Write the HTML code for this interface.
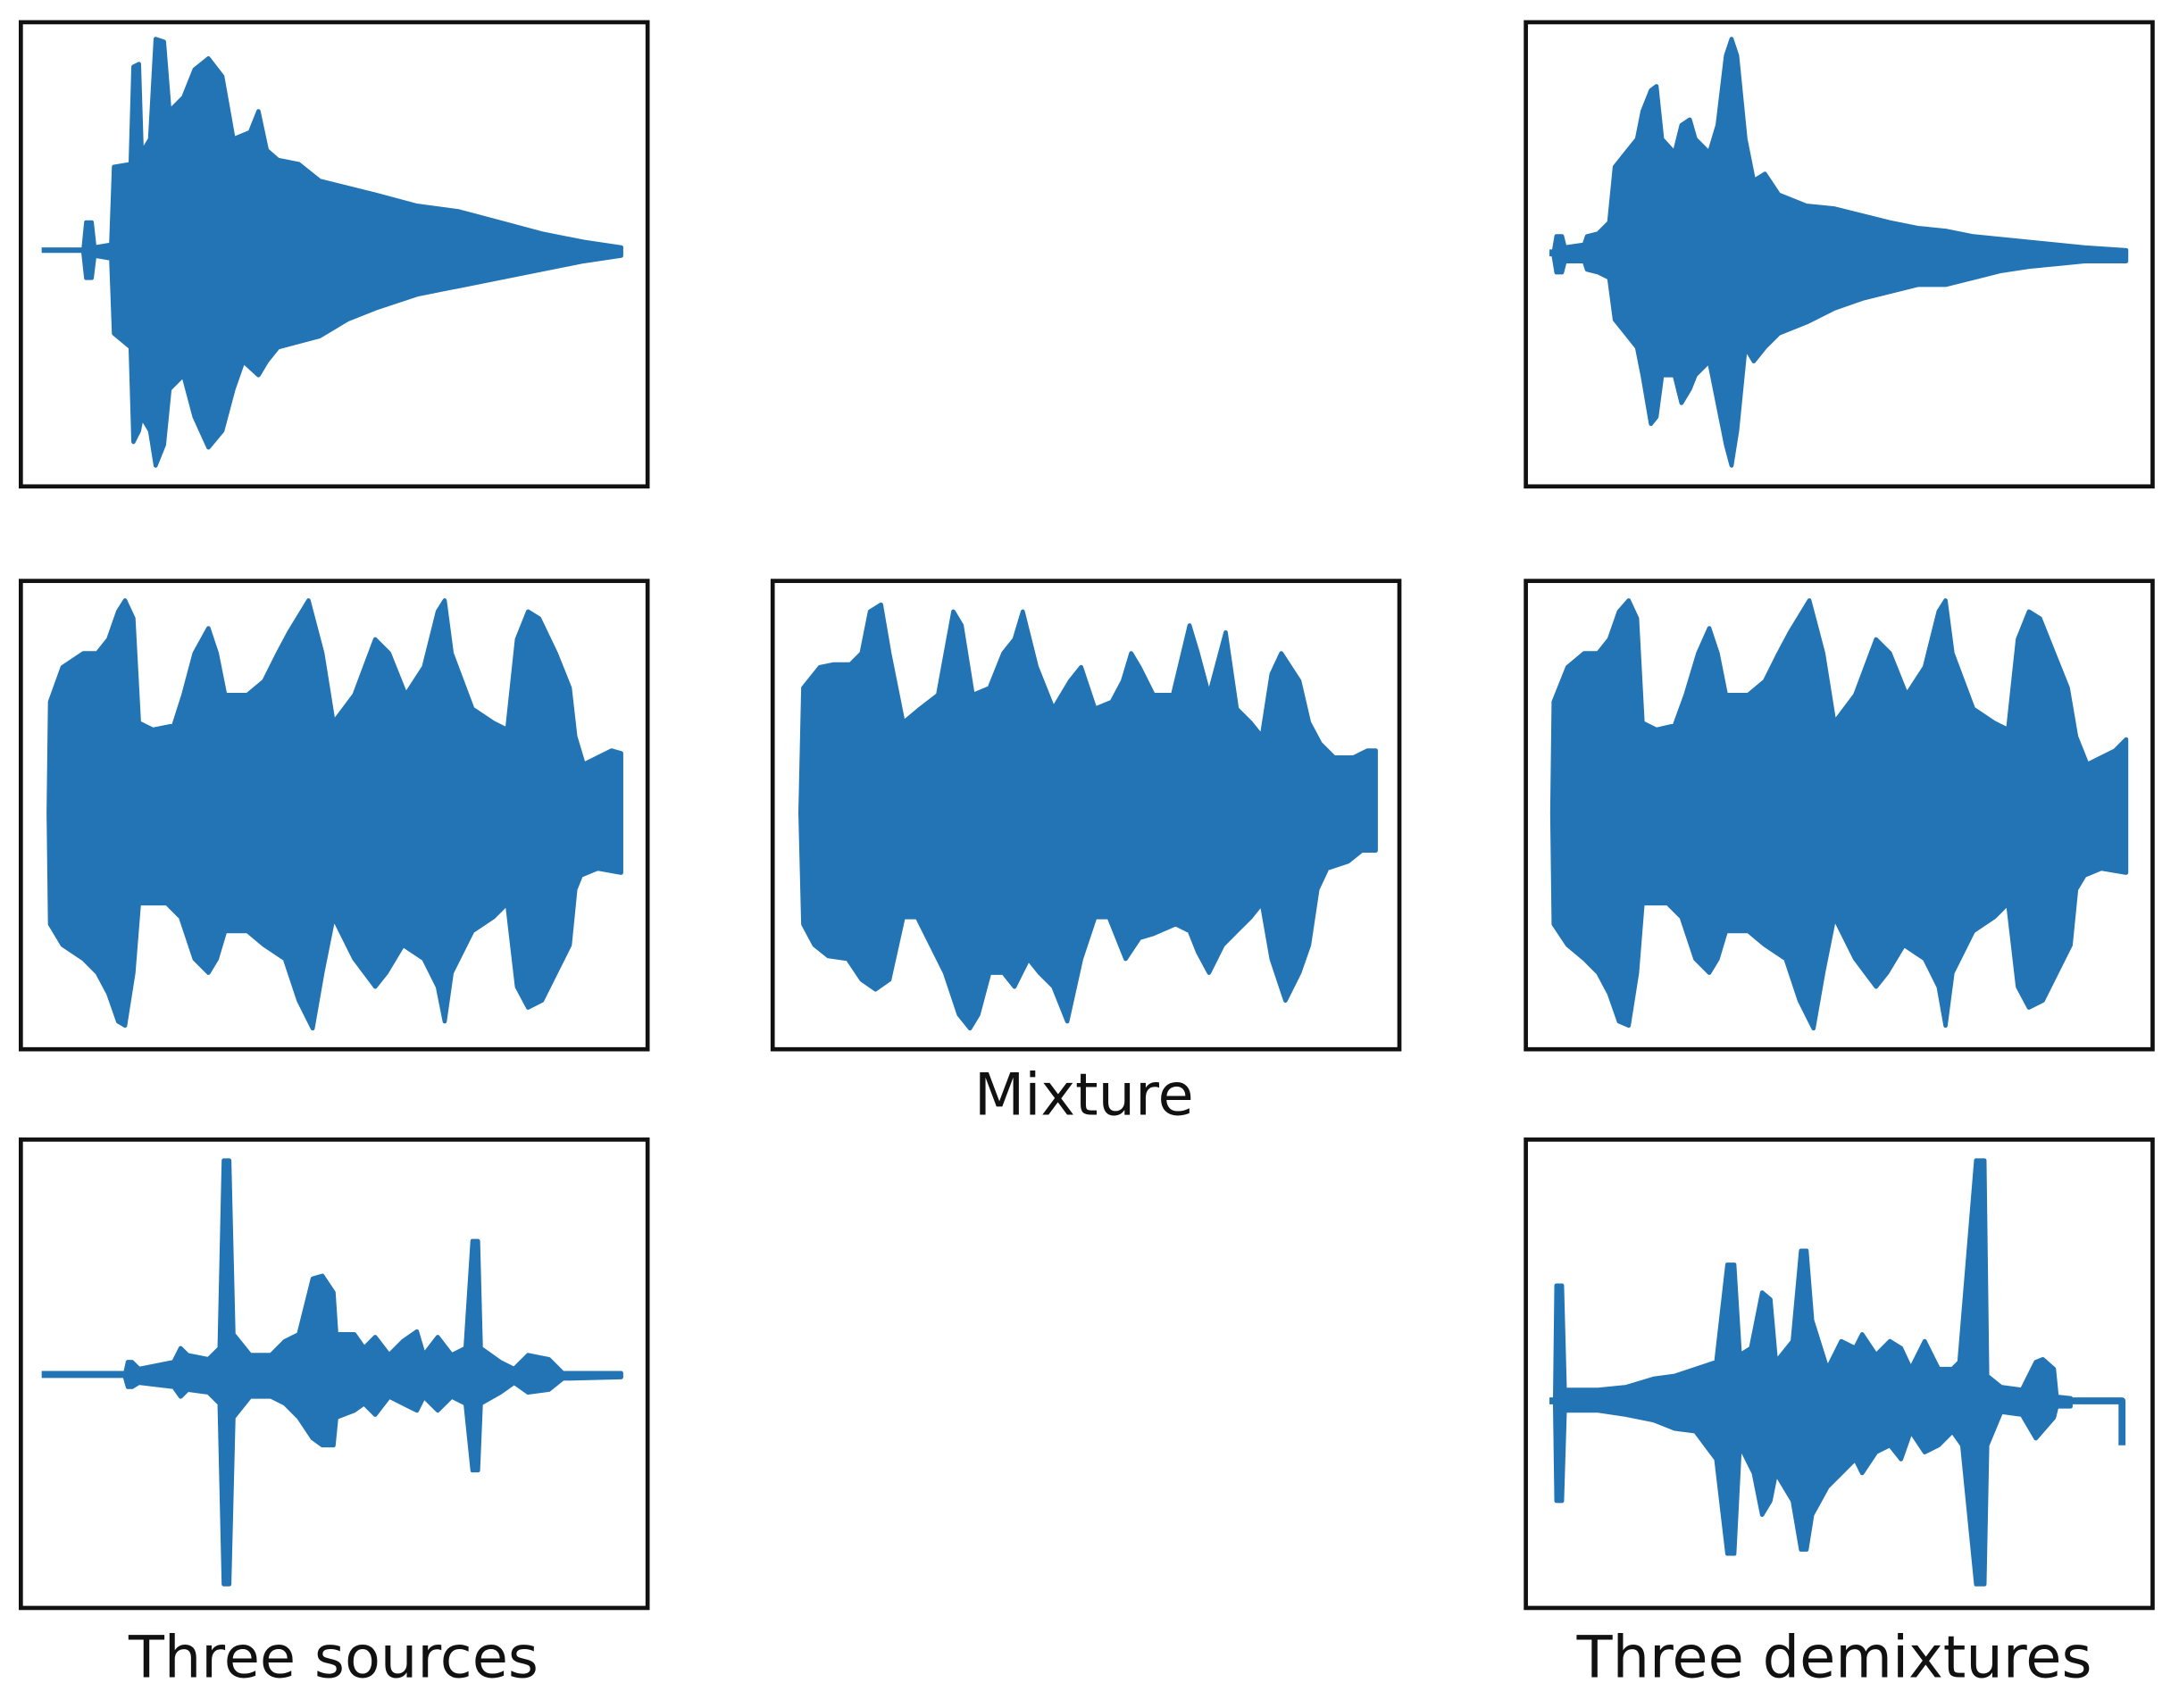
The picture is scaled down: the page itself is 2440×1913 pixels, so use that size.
<!DOCTYPE html>
<html><head><meta charset="utf-8"><style>
html,body{margin:0;padding:0;background:#fff;width:2440px;height:1913px;overflow:hidden}
svg{display:block}
text{font-family:"DejaVu Sans","Liberation Sans",sans-serif;font-size:42px;fill:#111}
</style></head><body>
<svg width="2440" height="1913" viewBox="0 0 1568 1229" preserveAspectRatio="none" xmlns="http://www.w3.org/2000/svg">
<g fill="#2274b4" stroke="#2274b4" stroke-width="3" stroke-linejoin="round">
<polyline points="30,180 447,180" fill="none" stroke-width="4"/>
<polygon points="60,180 62,160 66,160 68,178 80,176 82,120 94,118 96,48 100,46 102,110 108,100 112,28 118,30 122,80 132,70 140,50 150,42 160,55 168,100 180,95 186,80 192,108 200,115 215,118 230,130 250,135 270,140 300,148 330,152 360,160 390,168 420,174 447,178 447,184 420,188 390,194 360,200 330,206 300,212 270,222 250,230 230,242 200,250 192,260 186,270 175,260 168,280 160,310 150,322 140,300 132,270 122,280 118,320 112,335 108,310 102,300 100,310 96,318 94,250 82,240 80,186 68,184 66,200 62,200 60,182"/>
<polygon points="35,585 36,505 45,480 60,470 70,470 78,460 85,440 90,432 96,445 100,520 110,525 125,522 132,500 140,470 150,452 156,470 162,500 178,500 190,490 200,470 208,455 222,432 232,470 240,520 255,500 270,460 280,470 292,500 305,480 315,440 320,432 325,470 340,510 355,520 365,525 372,460 380,440 388,445 400,470 410,495 414,530 420,550 430,545 440,540 447,542 447,628 430,625 418,630 414,640 410,680 400,700 390,720 380,725 372,710 365,650 355,660 340,670 325,700 320,735 315,710 305,690 290,680 278,700 270,710 255,690 240,660 232,700 225,740 215,720 205,690 190,680 178,670 162,670 156,690 150,700 140,690 130,660 120,650 100,650 96,700 90,738 85,735 78,715 70,700 60,690 45,680 36,665"/>
<polygon points="576,585 578,495 590,480 600,478 612,478 620,470 626,440 634,435 640,470 650,520 662,510 675,500 686,440 692,450 700,500 712,495 722,470 730,460 736,440 746,480 758,510 770,490 778,480 788,510 800,505 808,490 814,470 820,480 830,500 844,500 856,450 862,470 870,500 882,455 890,510 900,520 908,530 915,485 922,470 935,490 942,520 950,535 960,545 974,545 984,540 990,540 990,612 980,612 970,620 955,625 948,640 942,680 935,700 925,720 920,705 915,690 908,650 900,660 890,670 880,680 870,700 862,685 856,670 846,665 830,672 820,675 810,690 798,660 788,660 778,690 768,735 758,710 748,700 740,690 730,710 722,700 712,700 704,730 698,740 690,730 680,700 670,680 660,660 650,660 640,705 630,712 620,705 610,690 596,688 586,680 578,665"/>
<polygon points="1117,585 1118,505 1128,480 1140,470 1150,470 1158,460 1165,440 1172,432 1178,445 1182,520 1192,525 1205,522 1213,500 1222,470 1230,452 1236,470 1242,500 1258,500 1270,490 1280,470 1288,455 1302,432 1312,470 1320,520 1335,500 1350,460 1360,470 1372,500 1385,480 1395,440 1400,432 1405,470 1420,510 1435,520 1445,525 1452,460 1460,440 1468,445 1478,470 1488,495 1494,530 1502,550 1512,545 1522,540 1530,532 1530,628 1512,625 1500,630 1494,640 1490,680 1480,700 1470,720 1460,725 1452,710 1445,650 1435,660 1420,670 1405,700 1400,738 1395,710 1385,690 1370,680 1358,700 1350,710 1335,690 1320,660 1312,700 1305,740 1295,720 1285,690 1270,680 1258,670 1242,670 1236,690 1230,700 1220,690 1210,660 1200,650 1182,650 1178,700 1172,738 1165,735 1158,715 1150,700 1140,690 1128,680 1118,665"/>
<polyline points="1115,182 1530,184" fill="none" stroke-width="5"/>
<polygon points="1118,182 1120,170 1124,170 1126,178 1140,176 1142,170 1150,168 1158,160 1162,120 1170,110 1178,100 1182,80 1188,65 1192,62 1196,100 1205,110 1210,90 1216,86 1220,100 1230,110 1236,90 1242,40 1246,28 1250,40 1256,100 1262,130 1270,125 1280,140 1300,148 1320,150 1340,155 1360,160 1380,164 1400,166 1420,170 1440,172 1460,174 1480,176 1500,178 1530,180 1530,188 1500,188 1480,190 1460,192 1440,195 1420,200 1400,205 1380,205 1360,210 1340,215 1320,222 1300,232 1280,240 1270,250 1262,260 1256,250 1250,310 1246,335 1242,320 1236,290 1230,260 1220,270 1216,280 1210,290 1205,270 1196,270 1192,300 1188,305 1182,270 1178,250 1170,240 1162,230 1158,200 1150,196 1142,194 1140,188 1126,188 1124,196 1120,196 1118,184"/>
<polyline points="30,989 447,989" fill="none" stroke-width="5"/>
<polygon points="90,989 92,980 95,980 100,985 125,980 130,970 135,975 150,978 158,970 161,835 165,835 168,960 180,975 195,975 205,965 215,960 225,920 232,918 240,930 242,960 255,960 262,970 270,962 280,975 290,965 300,958 305,975 315,962 325,975 335,970 340,893 344,893 346,970 360,980 370,985 380,975 395,978 405,988 447,988 447,991 405,992 395,1000 380,1002 370,995 360,1002 346,1010 344,1058 340,1058 335,1010 325,1005 315,1015 305,1005 300,1015 290,1010 280,1005 270,1018 262,1010 255,1015 242,1020 240,1040 232,1040 225,1035 215,1020 205,1010 195,1005 180,1005 168,1020 165,1140 161,1140 158,1010 150,1002 135,1000 130,1005 125,998 100,995 95,998 92,998 90,991"/>
<polyline points="1115,1008 1527,1008 1527,1040" fill="none" stroke-width="5"/>
<polygon points="1119,1008 1120,925 1124,925 1126,1000 1150,1000 1170,998 1190,992 1205,990 1220,985 1235,980 1243,910 1248,910 1252,975 1260,970 1268,930 1274,935 1278,980 1290,965 1296,900 1300,900 1304,950 1315,985 1325,965 1335,970 1340,960 1350,975 1360,965 1368,970 1375,985 1385,965 1395,985 1405,985 1410,980 1422,835 1428,835 1430,990 1440,998 1455,1000 1465,980 1470,978 1478,985 1480,1005 1490,1006 1490,1012 1480,1012 1478,1020 1465,1035 1455,1018 1440,1016 1430,1040 1428,1140 1422,1140 1412,1040 1405,1030 1395,1040 1385,1045 1375,1030 1368,1050 1360,1040 1350,1045 1340,1060 1335,1050 1325,1060 1315,1070 1304,1090 1300,1115 1296,1115 1290,1080 1278,1060 1274,1080 1268,1090 1262,1060 1252,1040 1248,1118 1243,1118 1235,1050 1220,1030 1205,1028 1190,1022 1170,1018 1150,1015 1126,1015 1124,1080 1120,1080 1119,1010"/>
</g>
<g fill="none" stroke="#111" stroke-width="3">
<rect x="15" y="16" width="451" height="334"/>
<rect x="1098" y="16" width="451" height="334"/>
<rect x="15" y="418" width="451" height="337"/>
<rect x="556" y="418" width="451" height="337"/>
<rect x="1098" y="418" width="451" height="337"/>
<rect x="15" y="820" width="451" height="337"/>
<rect x="1098" y="820" width="451" height="337"/>
</g>
<text x="780" y="802" text-anchor="middle">Mixture</text>
<text x="240" y="1207" text-anchor="middle">Three sources</text>
<text x="1320" y="1207" text-anchor="middle">Three demixtures</text>
</svg>
</body></html>
